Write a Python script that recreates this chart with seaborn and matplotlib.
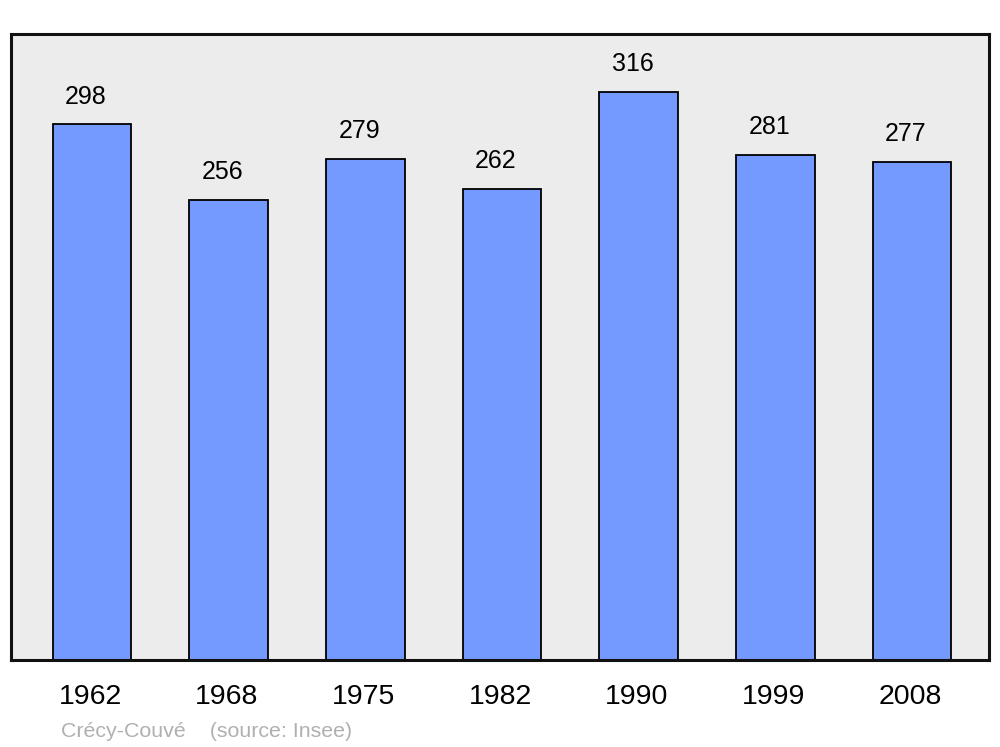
import pandas as pd
import matplotlib.pyplot as plt
import matplotlib.transforms as mtransforms
import seaborn as sns

# Population data (Crécy-Couvé, source: Insee)
years = ["1962", "1968", "1975", "1982", "1990", "1999", "2008"]
population = [298, 256, 279, 262, 316, 281, 277]

df = pd.DataFrame({"year": years, "population": population})

sns.set_theme(style="white")
plt.rcParams['font.family'] = ['Liberation Sans', 'DejaVu Sans']

fig = plt.figure(figsize=(10, 7.47), dpi=100)
ax = fig.add_axes([0.011, 0.1165, 0.978, 0.838])
ax.set_facecolor('#ececec')

sns.barplot(data=df, x="year", y="population", ax=ax, color='#7499ff',
            saturation=1, width=0.575, edgecolor='black', linewidth=1.3)

# value labels above each bar (slightly left of centre, as in the original)
for i, v in enumerate(population):
    ax.text(i - 0.045, v + 15.5, str(v), ha='center', va='center', fontsize=18, color='black')

ax.set_xlim(-0.593, 6.563)
ax.set_ylim(0, 348.3)
ax.set_yticks([])
ax.set_xlabel("")
ax.set_ylabel("")
ax.tick_params(axis='x', length=0, labelsize=20.5, pad=17, colors='black')
# nudge year labels a touch to the left
shift = mtransforms.ScaledTranslation(-2 / 100, 0, fig.dpi_scale_trans)
for lbl in ax.get_xticklabels():
    lbl.set_transform(lbl.get_transform() + shift)
for s in ax.spines.values():
    s.set_visible(True)
    s.set_color('#111111')
    s.set_linewidth(2.2)

fig.text(0.061, 0.0205, "Crécy-Couvé    (source: Insee)", fontsize=15.4, color='#b0b0b0', ha='left', va='center')

fig.savefig("out.png", dpi=100)
